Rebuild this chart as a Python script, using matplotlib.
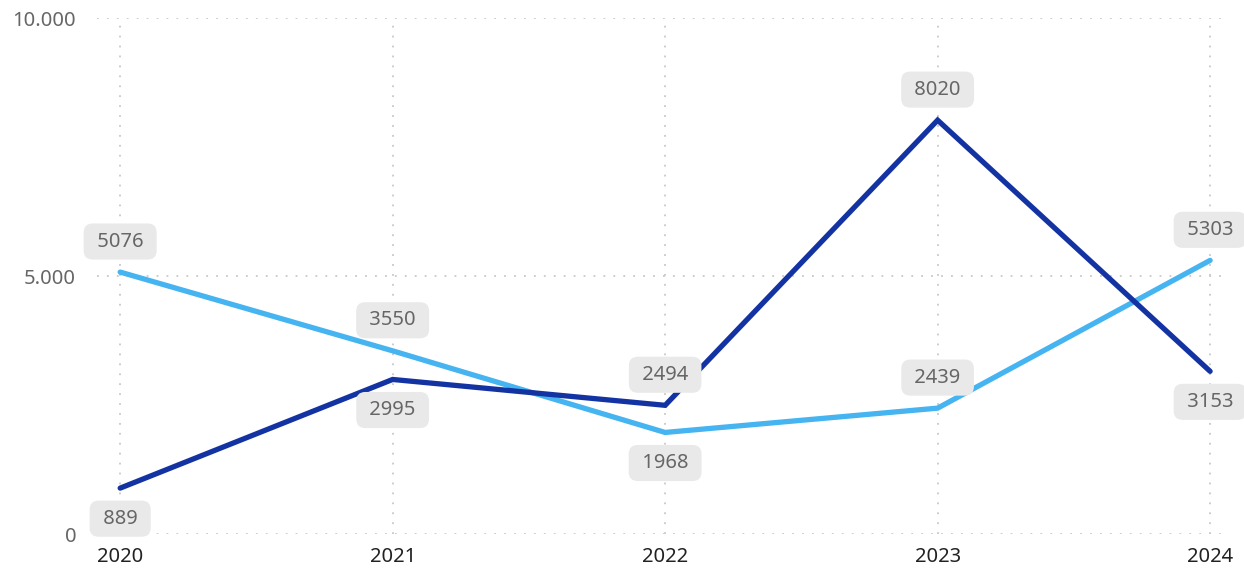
import matplotlib.pyplot as plt
from matplotlib.ticker import FuncFormatter

plt.rcParams['font.family'] = ['Noto Sans', 'DejaVu Sans']

years = [2020, 2021, 2022, 2023, 2024]
dark_values = [889, 2995, 2494, 8020, 3153]
light_values = [5076, 3550, 1968, 2439, 5303]
# label above (+1) or below (-1) the point
dark_pos = [-1, -1, 1, 1, -1]
light_pos = [1, 1, -1, 1, 1]

dark_color = '#1433a3'
light_color = '#45b4f0'

fig = plt.figure(figsize=(12.44, 5.70), dpi=100)
ax = fig.add_axes([97 / 1244, 36 / 570, 1130 / 1244, 516 / 570])

for vals, pos, col in [(light_values, light_pos, light_color),
                       (dark_values, dark_pos, dark_color)]:
    ax.plot(years, vals, color=col, lw=3.8, solid_capstyle='round',
            solid_joinstyle='miter', zorder=3)
    for x, v, p in zip(years, vals, pos):
        ax.annotate(f' {v} ', (x, v), xytext=(0, 22 * p), textcoords='offset points',
                    ha='center', va='center', fontsize=14.5, color='#666666', zorder=4,
                    bbox=dict(boxstyle='round,pad=0.4,rounding_size=0.45',
                              fc='#e9e9e9', ec='none'))

ax.set_xlim(2019.915, 2024.062)
ax.set_ylim(0, 10000)
ax.set_xticks(years)
ax.set_yticks([0, 5000, 10000])
ax.yaxis.set_major_formatter(FuncFormatter(lambda v, _: f'{int(v):,}'.replace(',', '.')))
ax.tick_params(axis='both', length=0, labelsize=14.5)
ax.tick_params(axis='y', colors='#666666', pad=15)
ax.tick_params(axis='x', colors='#222222', pad=9)
for s in ax.spines.values():
    s.set_visible(False)
ax.grid(True, linestyle=(0, (1, 4.5)), color='#c8c8c8', lw=1.3)
ax.set_axisbelow(True)

fig.savefig('out.png', dpi=100)
